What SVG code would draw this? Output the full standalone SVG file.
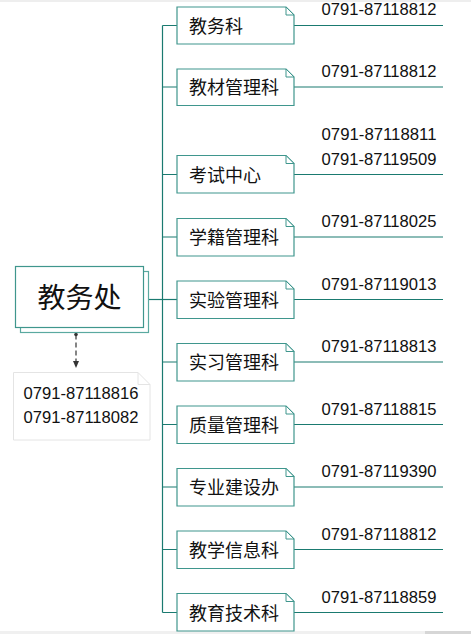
<svg xmlns="http://www.w3.org/2000/svg" width="471" height="634" viewBox="0 0 471 634">
<defs>
<style>
.node{fill:#fff;stroke:#3f968d;stroke-width:1.2}
.fold{fill:#fff;stroke:#3f968d;stroke-width:1}
.conn{fill:none;stroke:#1a7a70;stroke-width:1.2}
.lbl{font-family:"Noto Sans CJK SC","Liberation Sans",sans-serif;font-size:18px;fill:#111}
.ph{font-family:"Liberation Sans","DejaVu Sans",sans-serif;font-size:17px;fill:#111}
</style>
</defs>
<rect width="471" height="634" fill="#fff"/>
<rect x="0" y="0" width="471" height="2" fill="#eeeeee"/>
<rect x="0" y="631" width="471" height="3" fill="#f0f0f0"/>
<rect x="425" y="631" width="46" height="3" fill="#d6d6d6"/>

<g id="connectors">
<path class="conn" d="M162.5,25.5 V612.5"/>
<path class="conn" d="M148.5,299.5 H177"/>
<path class="conn" d="M162.5,25.5 H177 M294,25.5 H443"/>
<path class="conn" d="M162.5,87 H177 M294,87 H443"/>
<path class="conn" d="M162.5,174.5 H177 M294,174.5 H443"/>
<path class="conn" d="M162.5,237 H177 M294,237 H443"/>
<path class="conn" d="M294,299.5 H443"/>
<path class="conn" d="M162.5,362 H177 M294,362 H443"/>
<path class="conn" d="M162.5,424.5 H177 M294,424.5 H443"/>
<path class="conn" d="M162.5,487 H177 M294,487 H443"/>
<path class="conn" d="M162.5,549.5 H177 M294,549.5 H443"/>
<path class="conn" d="M162.5,612.5 H177 M294,612.5 H443"/>
<line x1="76" y1="334.5" x2="76" y2="366" stroke="#444" stroke-width="1.3" stroke-dasharray="5,3"/>
<circle cx="76" cy="334.5" r="1.8" fill="#333"/>
<path d="M73,361 L76,368 L79,361 Z" fill="#333"/>
</g>

<g id="root">
<rect x="20.5" y="271.5" width="128" height="61" fill="#fff" stroke="#5aa9a0" stroke-width="1.2"/>
<rect x="15.5" y="266.5" width="128" height="61" fill="#fff" stroke="#3f968d" stroke-width="1.2"/>
<text x="79.5" y="308" text-anchor="middle" font-family="Noto Sans CJK SC, Liberation Sans, sans-serif" font-size="28" fill="#111">教务处</text>
</g>

<g id="note">
<path d="M13.5,372.5 H138 L150,384.5 V440 H13.5 Z" fill="#fff" stroke="#e4e4e4" stroke-width="1"/>
<path d="M138,372.5 V384.5 H150" fill="none" stroke="#e4e4e4" stroke-width="1"/>
<text class="ph" x="23.5" y="399" textLength="115" lengthAdjust="spacingAndGlyphs">0791-87118816</text>
<text class="ph" x="23.5" y="422.5" textLength="115" lengthAdjust="spacingAndGlyphs">0791-87118082</text>
</g>

<g id="n1">
<path class="node" d="M177,7 H286 L294,15 V44 H177 Z"/><path class="fold" d="M286,7 V15 H294 Z"/>
<text class="lbl" x="189" y="24.5" dominant-baseline="central">教务科</text>
<text class="ph" x="321.5" y="15.3" textLength="115" lengthAdjust="spacingAndGlyphs">0791-87118812</text>
</g>
<g id="n2">
<path class="node" d="M177,69 H286 L294,77 V105.5 H177 Z"/><path class="fold" d="M286,69 V77 H294 Z"/>
<text class="lbl" x="189" y="86" dominant-baseline="central">教材管理科</text>
<text class="ph" x="321.5" y="77.3" textLength="115" lengthAdjust="spacingAndGlyphs">0791-87118812</text>
</g>
<g id="n3">
<path class="node" d="M177,155.5 H286 L294,163.5 V193 H177 Z"/><path class="fold" d="M286,155.5 V163.5 H294 Z"/>
<text class="lbl" x="189" y="173.5" dominant-baseline="central">考试中心</text>
<text class="ph" x="321.5" y="139.8" textLength="115" lengthAdjust="spacingAndGlyphs">0791-87118811</text>
<text class="ph" x="321.5" y="164.5" textLength="115" lengthAdjust="spacingAndGlyphs">0791-87119509</text>
</g>
<g id="n4">
<path class="node" d="M177,218.5 H286 L294,226.5 V256 H177 Z"/><path class="fold" d="M286,218.5 V226.5 H294 Z"/>
<text class="lbl" x="189" y="236" dominant-baseline="central">学籍管理科</text>
<text class="ph" x="321.5" y="227.2" textLength="115" lengthAdjust="spacingAndGlyphs">0791-87118025</text>
</g>
<g id="n5">
<path class="node" d="M177,281 H286 L294,289 V318.5 H177 Z"/><path class="fold" d="M286,281 V289 H294 Z"/>
<text class="lbl" x="189" y="298.5" dominant-baseline="central">实验管理科</text>
<text class="ph" x="321.5" y="289.7" textLength="115" lengthAdjust="spacingAndGlyphs">0791-87119013</text>
</g>
<g id="n6">
<path class="node" d="M177,343.5 H286 L294,351.5 V381 H177 Z"/><path class="fold" d="M286,343.5 V351.5 H294 Z"/>
<text class="lbl" x="189" y="361" dominant-baseline="central">实习管理科</text>
<text class="ph" x="321.5" y="352.2" textLength="115" lengthAdjust="spacingAndGlyphs">0791-87118813</text>
</g>
<g id="n7">
<path class="node" d="M177,406 H286 L294,414 V443.5 H177 Z"/><path class="fold" d="M286,406 V414 H294 Z"/>
<text class="lbl" x="189" y="423.5" dominant-baseline="central">质量管理科</text>
<text class="ph" x="321.5" y="414.7" textLength="115" lengthAdjust="spacingAndGlyphs">0791-87118815</text>
</g>
<g id="n8">
<path class="node" d="M177,468.5 H286 L294,476.5 V506 H177 Z"/><path class="fold" d="M286,468.5 V476.5 H294 Z"/>
<text class="lbl" x="189" y="486" dominant-baseline="central">专业建设办</text>
<text class="ph" x="321.5" y="477.2" textLength="115" lengthAdjust="spacingAndGlyphs">0791-87119390</text>
</g>
<g id="n9">
<path class="node" d="M177,531 H286 L294,539 V568.5 H177 Z"/><path class="fold" d="M286,531 V539 H294 Z"/>
<text class="lbl" x="189" y="548.5" dominant-baseline="central">教学信息科</text>
<text class="ph" x="321.5" y="539.7" textLength="115" lengthAdjust="spacingAndGlyphs">0791-87118812</text>
</g>
<g id="n10">
<path class="node" d="M177,593.5 H286 L294,601.5 V631 H177 Z"/><path class="fold" d="M286,593.5 V601.5 H294 Z"/>
<text class="lbl" x="189" y="611.5" dominant-baseline="central">教育技术科</text>
<text class="ph" x="321.5" y="602.5" textLength="115" lengthAdjust="spacingAndGlyphs">0791-87118859</text>
</g>
</svg>
